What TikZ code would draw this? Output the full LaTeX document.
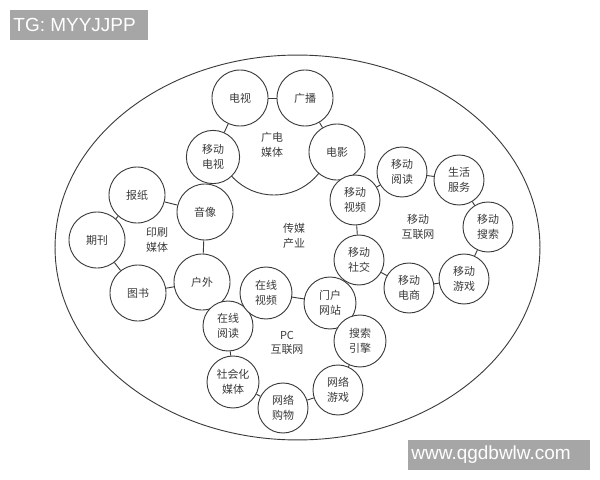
\documentclass[tikz,border=0pt]{standalone}
\usepackage{fontspec}
\newfontfamily\cjk{Noto Sans CJK SC}
\newfontfamily\wmfont{Liberation Sans}
\definecolor{ink}{HTML}{3A3A3A}
\definecolor{wmgray}{HTML}{A6A6A6}

\begin{document}
\begin{tikzpicture}[x=0.025cm, y=-0.025cm, line width=0.65pt, draw=ink,
		bub/.style={circle, draw=ink, fill=white, inner sep=0pt, align=center, text=ink,
			font=\cjk\fontsize{7.8}{10.5}\selectfont},
		bigbub/.style={bub, minimum size=1.4cm},
		smallbub/.style={bub, minimum size=1.25cm},
		lbl/.style={align=center, text=ink, inner sep=0pt, font=\cjk\fontsize{7.8}{10.5}\selectfont},
		wmtext/.style={text=white, inner sep=0pt, anchor=west, font=\wmfont\fontsize{13.5}{14}\selectfont}]
		\useasboundingbox (0,0) rectangle (600,480);
		\draw (297.5,247.5) ellipse [x radius=6.06cm, y radius=4.81cm];
		% arc of the broadcast group
		\coordinate (GDc) at (274,138);
		\begin{scope}
			\clip (190,162) rectangle (350,215);
			\draw (GDc) circle [radius=1.425cm];
		\end{scope}
		\node (TV) [bigbub] at (240,98) {电视};
		\node (Radio) [bigbub] at (305,98) {广播};
		\node (Film) [bigbub] at (337,152) {电影};
		\node (MobTV) [bub, minimum size=1.33cm] at (213,157) {移动\\电视};
		\node (GD) [lbl] at (272,145) {广电\\媒体};
		\node (Paper) [bigbub] at (137,195) {报纸};
		\node (Audio) [bigbub] at (205,212) {音像};
		\node (Journal) [bigbub] at (97,240) {期刊};
		\node (Book) [bigbub] at (138,293) {图书};
		\node (Outdoor) [bigbub] at (202,282) {户外};
		\node (Print) [lbl] at (157,240) {印刷\\媒体};
		\node (Core) [lbl] at (294,236) {传媒\\产业};
		\node (MobVideo) [smallbub] at (355,200) {移动\\视频};
		\node (MobRead) [smallbub] at (402,172) {移动\\阅读};
		\node (Life) [smallbub] at (459,180) {生活\\服务};
		\node (MobSearch) [smallbub] at (488,227) {移动\\搜索};
		\node (MobGame) [smallbub] at (464,279) {移动\\游戏};
		\node (MobShop) [smallbub] at (409,288) {移动\\电商};
		\node (MobSocial) [smallbub] at (359,260) {移动\\社交};
		\node (Mob) [lbl] at (418,227) {移动\\互联网};
		\node (WebRead) [smallbub] at (228,326) {在线\\阅读};
		\node (WebVideo) [bub, minimum size=1.3cm] at (266,293) {在线\\视频};
		\node (Portal) [bub, minimum size=1.3cm] at (330,303) {门户\\网站};
		\node (Engine) [bub, minimum size=1.3cm] at (360,341) {搜索\\引擎};
		\node (WebGame) [smallbub] at (338,390) {网络\\游戏};
		\node (WebShop) [smallbub] at (283,408) {网络\\购物};
		\node (Social) [bub, minimum size=1.3cm] at (233,382) {社会化\\媒体};
		\node (PC) [lbl] at (287,343) {PC\\互联网};
		\draw (TV) -- (Radio);
		\draw (TV) -- (MobTV);
		\draw (Radio) -- (Film);
		\draw (Paper) -- (Audio);
		\draw (Paper) -- (Journal);
		\draw (Journal) -- (Book);
		\draw (Book) -- (Outdoor);
		\draw (Outdoor) -- (Audio);
		\draw (MobVideo) -- (MobRead);
		\draw (MobRead) -- (Life);
		\draw (Life) -- (MobSearch);
		\draw (MobSearch) -- (MobGame);
		\draw (MobGame) -- (MobShop);
		\draw (MobShop) -- (MobSocial);
		\draw (MobSocial) -- (MobVideo);
		\draw (WebVideo) -- (Portal);
		\draw (Engine) -- (WebGame);
		\draw (WebGame) -- (WebShop);
		\draw (WebShop) -- (Social);
		\draw (Social) -- (WebRead);
		% watermarks
		\fill[wmgray] (10,10) rectangle (148,40);
		\node (TG) [wmtext] at (13,25) {TG: MYYJJPP};
		\fill[wmgray] (408,440) rectangle (590,470);
		\node (Site) [wmtext] at (411,455) {www.qgdbwlw.com};
	\end{tikzpicture}
\end{document}
